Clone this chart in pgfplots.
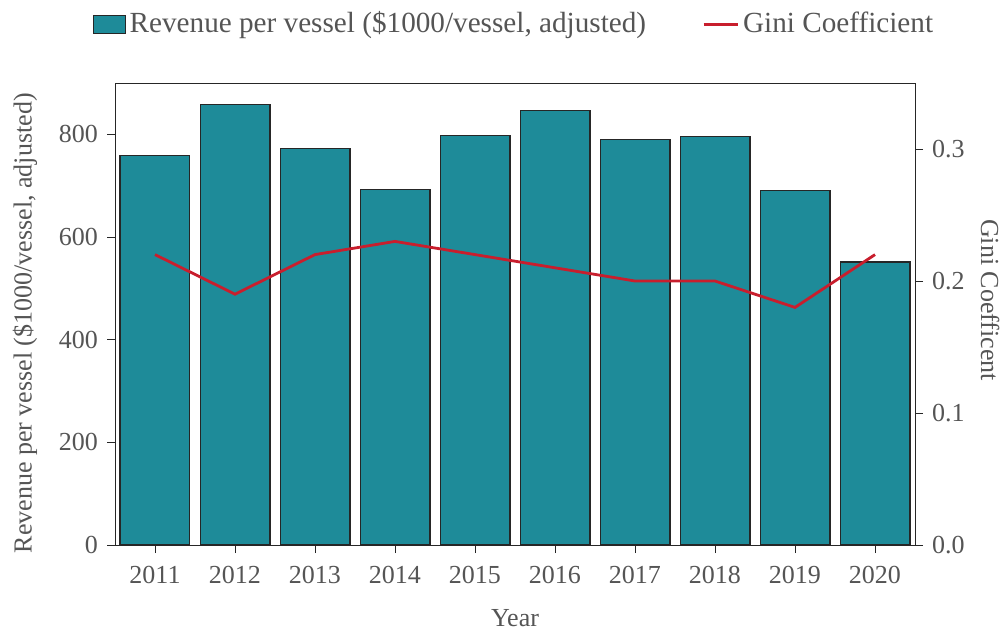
\documentclass[border=0pt]{standalone}
\usepackage{pgfplots}
\pgfplotsset{compat=1.18}
\usepackage{fontspec}
\setmainfont{Liberation Serif}
\definecolor{barteal}{RGB}{30,139,153}
\definecolor{ginired}{RGB}{200,30,45}
\definecolor{txtgray}{RGB}{85,85,85}
\begin{document}
\fontsize{13}{15}\selectfont
\begin{tikzpicture}
\pgfplotsset{every axis/.append style={scale only axis, width=400pt, height=231pt,
  xmin=2010.5, xmax=2020.5, font=\fontsize{13}{15}\selectfont,
  tick label style={text=txtgray}, label style={text=txtgray},
  /pgf/number format/assume math mode=true, tick align=outside,
  major tick length=4pt, axis line style={black!85}, tick style={black!85}}}
\begin{axis}[at={(0,0)}, anchor=south west,
  ymin=0, ymax=900, ytick={0,200,...,800},
  xtick={2011,...,2020}, xticklabel style={/pgf/number format/1000 sep={}, yshift=-2pt},
  ytick pos=left, xtick pos=bottom,
  ylabel={Revenue per vessel (\$1000/vessel, adjusted)},
  ylabel style={at={(axis description cs:-0.1125,0.48)}, anchor=center},
  xlabel={Year},
  xlabel style={at={(axis description cs:0.5,-0.158)}, anchor=center},
  ybar, bar width=0.87]
\addplot[fill=barteal, draw=black!85, line width=0.7pt] coordinates {
(2011,759) (2012,858) (2013,773) (2014,693) (2015,798)
(2016,847) (2017,790) (2018,796) (2019,691) (2020,551)};
\end{axis}
\begin{axis}[at={(0,0)}, anchor=south west,
  ymin=0, ymax=0.35, ytick={0,0.1,0.2,0.3},
  yticklabel style={/pgf/number format/fixed, /pgf/number format/fixed zerofill, /pgf/number format/precision=1},
  axis y line*=right, axis x line=none,
  ylabel={Gini Coefficent},
  ylabel style={at={(axis description cs:1.094,0.53)}, anchor=center, rotate=180},
  legend style={at={(axis description cs:0.5,1.127)}, anchor=center, draw=none, fill=none,
    legend columns=2, text=txtgray, font=\fontsize{14.6}{17}\selectfont,
    /tikz/every even column/.append style={column sep=26pt}},
  ]
\addlegendimage{legend image code/.code={\draw[fill=barteal, draw=black!85] (0pt,-4.5pt) rectangle (16pt,4.5pt);}}
\addlegendentry{Revenue per vessel (\$1000/vessel, adjusted)}
\addplot[ginired, line width=1.4pt, mark=none] coordinates {
(2011,0.22) (2012,0.19) (2013,0.22) (2014,0.23) (2015,0.22)
(2016,0.21) (2017,0.20) (2018,0.20) (2019,0.18) (2020,0.22)};
\addlegendentry{Gini Coefficient}
\end{axis}
\pgfresetboundingbox
\path (-57.5pt,-44pt) rectangle (446pt,272.5pt);
\end{tikzpicture}
\end{document}
